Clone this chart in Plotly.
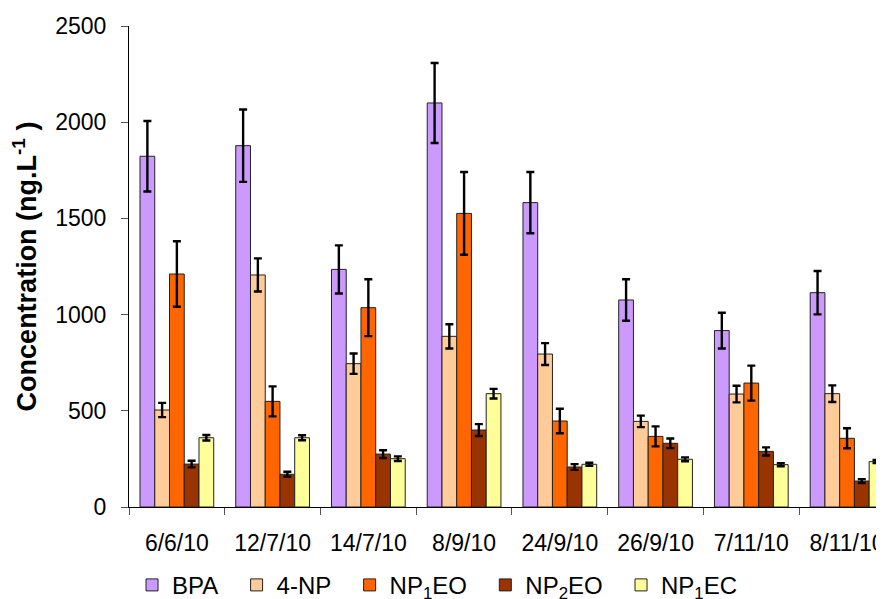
import plotly.graph_objects as go

dates = ["6/6/10", "12/7/10", "14/7/10", "8/9/10", "24/9/10", "26/9/10", "7/11/10", "8/11/10"]

bpa = [1823, 1878, 1235, 2100, 1582, 1076, 917, 1114]
bpa_err = [183, 188, 125, 208, 159, 108, 93, 113]
np4 = [504, 1206, 745, 887, 795, 445, 587, 589]
np4_err = [37, 86, 53, 63, 57, 30, 43, 43]
np1eo = [1211, 549, 1036, 1526, 447, 367, 644, 357]
np1eo_err = [170, 78, 148, 215, 64, 52, 91, 52]
np2eo = [223, 170, 275, 400, 208, 331, 289, 135]
np2eo_err = [17, 13, 20, 31, 15, 25, 21, 10]
np1ec = [360, 360, 251, 589, 222, 248, 220, 236]
np1ec_err = [14, 13, 12, 25, 8, 10, 8, 8]

PAD = "&nbsp;&nbsp;"
series = [
    ("BPA" + PAD, bpa, bpa_err, "#CC99FF"),
    ("4-NP" + PAD, np4, np4_err, "#FFCC99"),
    ("NP<sub>1</sub>EO" + PAD, np1eo, np1eo_err, "#FF6600"),
    ("NP<sub>2</sub>EO" + PAD, np2eo, np2eo_err, "#993300"),
    ("NP<sub>1</sub>EC", np1ec, np1ec_err, "#FFFF99"),
]

FONT = "Liberation Sans, Arial, sans-serif"

fig = go.Figure()
for name, vals, errs, col in series:
    fig.add_trace(go.Bar(
        x=dates, y=vals, name=name,
        marker=dict(color=col, line=dict(color="#222222", width=1)),
        error_y=dict(type="data", array=errs, visible=True,
                     color="black", thickness=2.4, width=4),
    ))

# page body adds an 8px offset, so the figure is 8px smaller than the window
fig.update_layout(
    width=876, height=591,
    margin=dict(l=121, r=0, t=18, b=92, autoexpand=False),
    paper_bgcolor="white", plot_bgcolor="white",
    barmode="group", bargap=0.23, bargroupgap=0,
    font=dict(family=FONT, size=23, color="black"),
    showlegend=True,
    legend=dict(orientation="h", x=0.004, xanchor="left", y=-0.116, yanchor="top",
                font=dict(size=24), itemclick=False, bgcolor="rgba(0,0,0,0)"),
    xaxis=dict(
        type="category", range=[-0.5, 7.386],
        showline=True, linecolor="black", linewidth=1,
        ticks="outside", tickson="boundaries", ticklen=7, tickcolor="#555555",
        showgrid=False, zeroline=False,
        tickfont=dict(size=23), ticklabelstandoff=15,
    ),
    yaxis=dict(
        range=[0, 2500], dtick=500,
        showline=True, linecolor="black", linewidth=1,
        ticks="outside", ticklen=7, tickcolor="#555555",
        showgrid=False, zeroline=False,
        tickfont=dict(size=23), ticklabelstandoff=10,
        title=dict(text="<b>Concentration (ng.L<sup>-1</sup> )</b>",
                   font=dict(size=27), standoff=12),
        automargin=False,
    ),
)

fig.write_html("out.html")
